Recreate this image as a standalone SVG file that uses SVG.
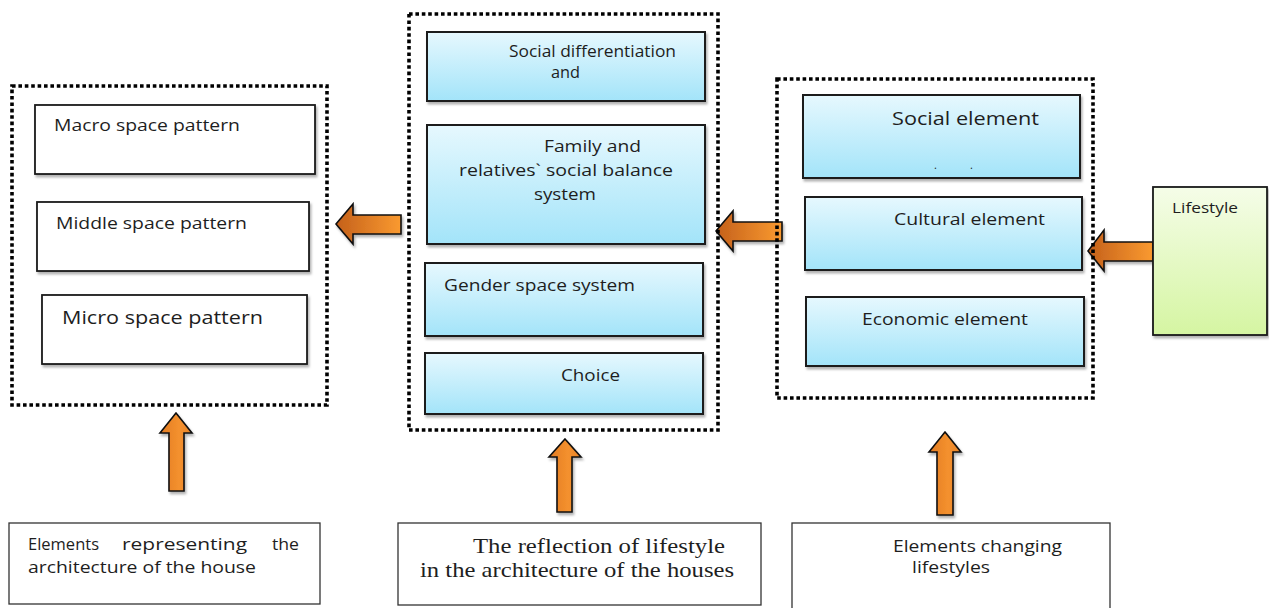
<svg xmlns="http://www.w3.org/2000/svg" width="1269" height="608" viewBox="0 0 1269 608">
<style>
.t{font-family:"Open Sans","Liberation Sans",sans-serif;fill:#1e1e1e}
.s{font-family:"Liberation Serif","Times New Roman",serif;fill:#1e1e1e}
.cont{fill:none;stroke:#000;stroke-width:3.6;stroke-dasharray:3.6 2.8}
.blue{fill:url(#blueG);stroke:#1a1a1a;stroke-width:2;filter:url(#sh)}
.white{fill:#fff;stroke:#1a1a1a;stroke-width:1.8;filter:url(#sh)}
.plain{fill:#fff;stroke:#333;stroke-width:1.3}
.arrH{stroke:#111;stroke-width:1.6;stroke-linejoin:miter;filter:url(#sh)}
.arrV{fill:url(#orV);stroke:#111;stroke-width:1.6;filter:url(#sh)}
</style>
<defs>
<linearGradient id="blueG" x1="0" y1="0" x2="0" y2="1">
<stop offset="0" stop-color="#e6f8fe"/><stop offset="1" stop-color="#a3e4f9"/>
</linearGradient>
<linearGradient id="greenG" x1="0" y1="0" x2="0" y2="1">
<stop offset="0" stop-color="#f5fde8"/><stop offset="1" stop-color="#d5f5a2"/>
</linearGradient>
<linearGradient id="orH" x1="0" y1="0" x2="1" y2="0">
<stop offset="0" stop-color="#c4601b"/><stop offset="1" stop-color="#fa9a30"/>
</linearGradient>
<linearGradient id="orV" x1="0" y1="0" x2="1" y2="0">
<stop offset="0" stop-color="#e27b22"/><stop offset="0.6" stop-color="#f4912e"/><stop offset="1" stop-color="#e8832a"/>
</linearGradient>
<filter id="sh" x="-10%" y="-10%" width="130%" height="130%">
<feDropShadow dx="1.5" dy="2.5" stdDeviation="1.2" flood-color="#000" flood-opacity="0.3"/>
</filter>
</defs>
<rect width="1269" height="608" fill="#fff"/>

<g id="connectors">
<polygon class="arrH" fill="url(#orH)" points="336,224 353,204 353,215 401,215 401,234 353,234 353,244"/>
<polygon class="arrH" fill="url(#orH)" points="716,231 733,211 733,222 782,222 782,241 733,241 733,251"/>
<polygon class="arrH" fill="url(#orH)" points="1088,251 1104,230 1104,242 1153,242 1153,261 1104,261 1104,271"/>
<polygon class="arrV" points="176,413 192,433 184,433 184,491 169,491 169,433 160,433"/>
<polygon class="arrV" points="565,439 581,457 572,457 572,512 557,512 557,457 549,457"/>
<polygon class="arrV" points="945,432 961,452 953,452 953,515 937,515 937,452 929,452"/>
</g>

<g id="house-elements">
<rect class="cont" x="12" y="86" width="315" height="319"/>
<g id="macro"><rect class="white" x="35" y="105" width="280" height="69"/>
<text class="t" x="54" y="131" font-size="17" textLength="186" lengthAdjust="spacingAndGlyphs">Macro space pattern</text></g>
<g id="middle"><rect class="white" x="37" y="202" width="272" height="69"/>
<text class="t" x="56" y="229" font-size="17" textLength="191" lengthAdjust="spacingAndGlyphs">Middle space pattern</text></g>
<g id="micro"><rect class="white" x="42" y="295" width="265" height="69"/>
<text class="t" x="62" y="324" font-size="19" textLength="201" lengthAdjust="spacingAndGlyphs">Micro space pattern</text></g>
</g>

<g id="reflection">
<rect class="cont" x="409" y="14" width="309" height="416"/>
<g id="social-diff"><rect class="blue" x="427" y="32" width="278" height="69"/>
<text class="t" x="509" y="57" font-size="16" textLength="167" lengthAdjust="spacingAndGlyphs">Social differentiation</text>
<text class="t" x="551" y="78" font-size="16" textLength="29" lengthAdjust="spacingAndGlyphs">and</text></g>
<g id="family"><rect class="blue" x="427" y="125" width="278" height="119"/>
<text class="t" x="544" y="152" font-size="17" textLength="97" lengthAdjust="spacingAndGlyphs">Family and</text>
<text class="t" x="459" y="176" font-size="17" textLength="214" lengthAdjust="spacingAndGlyphs">relatives` social balance</text>
<text class="t" x="534" y="200" font-size="17" textLength="62" lengthAdjust="spacingAndGlyphs">system</text></g>
<g id="gender"><rect class="blue" x="425" y="263" width="278" height="73"/>
<text class="t" x="444" y="291" font-size="17" textLength="191" lengthAdjust="spacingAndGlyphs">Gender space system</text></g>
<g id="choice"><rect class="blue" x="425" y="353" width="278" height="61"/>
<text class="t" x="561" y="381" font-size="17" textLength="59" lengthAdjust="spacingAndGlyphs">Choice</text></g>
</g>

<g id="changing-elements">
<rect class="cont" x="777" y="79" width="316" height="319"/>
<g id="social-el"><rect class="blue" x="803" y="95" width="277" height="83"/>
<text class="t" x="892" y="125" font-size="19" textLength="147" lengthAdjust="spacingAndGlyphs">Social element</text>
<text class="t" x="934" y="169" font-size="11">.</text>
<text class="t" x="970" y="169" font-size="11">.</text></g>
<g id="cultural-el"><rect class="blue" x="805" y="197" width="277" height="73"/>
<text class="t" x="894" y="225" font-size="17" textLength="151" lengthAdjust="spacingAndGlyphs">Cultural element</text></g>
<g id="economic-el"><rect class="blue" x="806" y="297" width="278" height="69"/>
<text class="t" x="862" y="325" font-size="17" textLength="166" lengthAdjust="spacingAndGlyphs">Economic element</text></g>
</g>

<g id="lifestyle">
<rect x="1153" y="187" width="114" height="148" fill="url(#greenG)" stroke="#1a1a1a" stroke-width="1.8" filter="url(#sh)"/>
<text class="t" x="1172" y="213" font-size="15" textLength="66" lengthAdjust="spacingAndGlyphs">Lifestyle</text>
</g>

<g id="label-house">
<rect class="plain" x="9" y="523" width="311" height="81"/>
<text class="t" x="28" y="550" font-size="16.5" textLength="71" lengthAdjust="spacingAndGlyphs">Elements</text>
<text class="t" x="122" y="550" font-size="16.5" textLength="125" lengthAdjust="spacingAndGlyphs">representing</text>
<text class="t" x="272" y="550" font-size="16.5" textLength="27" lengthAdjust="spacingAndGlyphs">the</text>
<text class="t" x="28" y="573" font-size="16.5" textLength="228" lengthAdjust="spacingAndGlyphs">architecture of the house</text>
</g>

<g id="label-reflection">
<rect class="plain" x="398" y="523" width="363" height="82"/>
<text class="s" x="473" y="553" font-size="21.5" textLength="252" lengthAdjust="spacingAndGlyphs">The reflection of lifestyle</text>
<text class="s" x="420" y="577" font-size="21.5" textLength="314" lengthAdjust="spacingAndGlyphs">in the architecture of the houses</text>
</g>

<g id="label-changing">
<rect class="plain" x="792" y="523" width="318" height="90"/>
<text class="t" x="893" y="552" font-size="16" textLength="169" lengthAdjust="spacingAndGlyphs">Elements changing</text>
<text class="t" x="912" y="573" font-size="16" textLength="78" lengthAdjust="spacingAndGlyphs">lifestyles</text>
</g>
</svg>
